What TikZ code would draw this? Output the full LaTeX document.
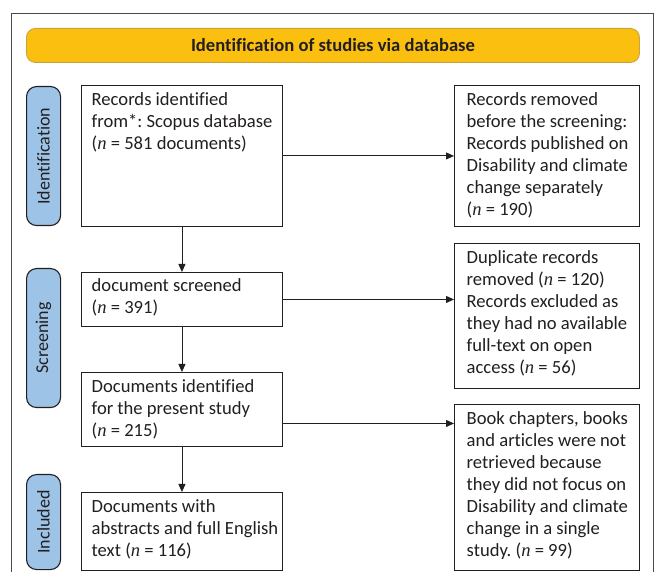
\documentclass[tikz,border=0pt]{standalone}
\usepackage{fontspec}
\setmainfont{Carlito}[Ligatures={NoCommon}]
\newfontfamily\nserif{Liberation Serif}
\usetikzlibrary{arrows.meta,calc}
\frenchspacing
\newcommand\nv{{\nserif\itshape n}}
\definecolor{barfill}{HTML}{FBBF10}
\definecolor{barline}{HTML}{C9A43A}
\definecolor{pillfill}{HTML}{9DC3E6}
\definecolor{ink}{HTML}{231F20}
\definecolor{frameline}{HTML}{4A4A4A}
\tikzset{
  boxshape/.style={draw=ink, line width=0.9pt, fill=white, inner sep=0pt, anchor=north west},
  boxtext/.style={inner sep=0pt, anchor=north west, text=ink, font=\fontsize{18.6}{22}\selectfont\frenchspacing, align=left},
  pill/.style={draw=ink, line width=1.1pt, fill=pillfill, rounded corners=10pt, inner sep=0pt, anchor=north west},
  pilltext/.style={rotate=90, text=ink, font=\fontsize{18}{22}\selectfont, inner sep=0pt},
  arr/.style={draw=ink, line width=0.9pt, -{Triangle[length=8pt,width=7pt]}},
}
\begin{document}
\begin{tikzpicture}[x=1pt,y=-1pt]
\useasboundingbox (0,0) rectangle (657,572);
% outer frame (bottom edge outside the picture)
\draw[frameline, line width=0.8pt] (11,572) -- (11,13) -- (653,13) -- (653,572);
% header bar
\node[draw=barline, line width=0.9pt, fill=barfill, rounded corners=9pt, anchor=north west,
      minimum width=613pt, minimum height=34pt, inner sep=0pt] (hdr) at (26,28) {};
\node[text=ink, font=\fontsize{18.6}{22}\selectfont\bfseries] (hdrtext) at (hdr.center) {Identification of studies via database};
% phase pills
\node[pill, minimum width=34pt, minimum height=139pt] (pid) at (26,86) {};
\node[pilltext] (pidt) at (pid.center) {Identification};
\node[pill, minimum width=34pt, minimum height=139pt] (psc) at (26,268) {};
\node[pilltext] (psct) at (psc.center) {Screening};
\node[pill, minimum width=34pt, minimum height=95pt] (pin) at (26,474) {};
\node[pilltext] (pint) at (pin.center) {Included};
% left column boxes
\node[boxshape, minimum width=201pt, minimum height=141pt] (A) at (81,85) {};
\node[boxtext] (At) at ($(A.north west)+(10.5,4.6)$) {\strut Records identified\\from*: Scopus database\\(\nv{} = 581 documents)};
\node[boxshape, minimum width=201pt, minimum height=54pt] (B) at (81,272) {};
\node[boxtext] (Bt) at ($(B.north west)+(10.5,3.8)$) {\strut document screened\\(\nv{} = 391)};
\node[boxshape, minimum width=201pt, minimum height=74pt] (C) at (81,372) {};
\node[boxtext] (Ct) at ($(C.north west)+(10.5,4.6)$) {\strut Documents identified\\for the present study\\(\nv{} = 215)};
\node[boxshape, minimum width=201pt, minimum height=78pt] (D) at (81,492) {};
\node[boxtext] (Dt) at ($(D.north west)+(10.5,4.6)$) {\strut Documents with\\abstracts and full English\\text (\nv{} = 116)};
% right column boxes
\node[boxshape, minimum width=185pt, minimum height=141pt] (R1) at (454,85) {};
\node[boxtext] (R1t) at ($(R1.north west)+(12.5,4.6)$) {\strut Records removed\\before the screening:\\Records published on\\Disability and climate\\change separately\\(\nv{} = 190)};
\node[boxshape, minimum width=185pt, minimum height=145pt] (R2) at (454,243) {};
\node[boxtext] (R2t) at ($(R2.north west)+(12.5,4.6)$) {\strut Duplicate records\\removed (\nv{} = 120)\\Records excluded as\\they had no available\\full-text on open\\access (\nv{} = 56)};
\node[boxshape, minimum width=185pt, minimum height=166pt] (R3) at (454,404) {};
\node[boxtext] (R3t) at ($(R3.north west)+(12.5,4.6)$) {\strut Book chapters, books\\and articles were not\\retrieved because\\they did not focus on\\Disability and climate\\change in a single\\study. (\nv{} = 99)};
% connectors
\draw[arr] (A.south) -- (B.north);
\draw[arr] (B.south) -- (C.north);
\draw[arr] (C.south) -- (D.north);
\draw[arr] (A.east) -- (A.east -| R1.west);
\draw[arr] (B.east) -- (B.east -| R2.west);
\draw[arr] ([yshift=-14pt]C.east) -- ([yshift=-14pt]C.east -| R3.west);
\end{tikzpicture}
\end{document}
